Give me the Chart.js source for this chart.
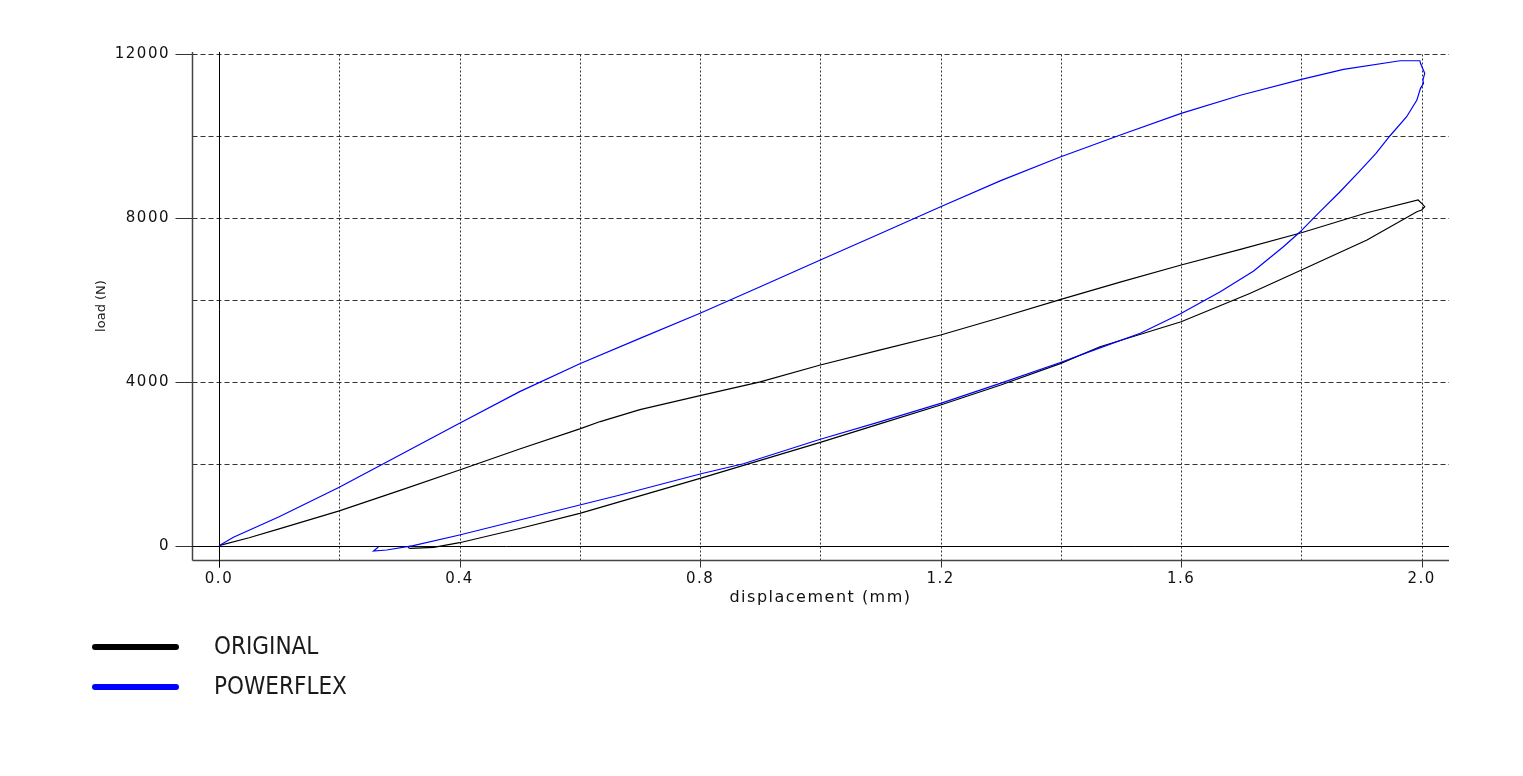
<!DOCTYPE html>
<html>
<head>
<meta charset="utf-8">
<script src="https://cdn.jsdelivr.net/npm/chart.js@4.4.0/dist/chart.umd.min.js"></script>
<style>
  html, body { margin: 0; padding: 0; background: #fff; }
  canvas { display: block; }
</style>
</head>
<body>
<canvas id="hysteresis" width="1523" height="776"></canvas>
<script>
const seriesNames = ["ORIGINAL", "POWERFLEX"];
const seriesColors = ["#000000", "#0000ff"];

const originalDisp = [0, 0.05, 0.1, 0.2, 0.3, 0.4, 0.5, 0.6, 0.634, 0.7, 0.8, 0.9, 1.0, 1.1, 1.2, 1.3, 1.4, 1.5, 1.6, 1.7, 1.8, 1.909, 1.994, 2.0, 2.005, 2.0,
  1.992, 1.909, 1.8, 1.715, 1.6, 1.465, 1.4, 1.3, 1.2, 1.1, 1.0, 0.9, 0.8, 0.7, 0.6, 0.5, 0.4, 0.357, 0.318, 0.314];
const originalLoad = [0, 195, 410, 850, 1345, 1847, 2360, 2850, 3030, 3320, 3661, 4000, 4410, 4780, 5142, 5570, 6013, 6440, 6851, 7240, 7639, 8127, 8437, 8356, 8274, 8193,
  8152, 7461, 6729, 6160, 5467, 4857, 4451, 3922, 3434, 2978, 2523, 2084, 1645, 1215, 790, 420, 73, -39, -63, -45];

const powerflexDisp = [0, 0.024, 0.1, 0.2, 0.3, 0.4, 0.5, 0.6, 0.7, 0.8, 0.9, 1.0, 1.1, 1.2, 1.3, 1.4, 1.5, 1.6, 1.7, 1.8, 1.87, 1.964, 1.997,
  1.998, 2.005, 2.002, 2.003, 1.998, 1.992, 1.975, 1.947, 1.924, 1.896, 1.863, 1.83, 1.797, 1.77, 1.72, 1.665, 1.598, 1.532, 1.465, 1.398, 1.299,
  1.2, 1.1, 1.0, 0.872, 0.8, 0.667, 0.6, 0.5, 0.4, 0.323, 0.279, 0.257, 0.265];
const powerflexLoad = [0, 205, 708, 1425, 2206, 2990, 3760, 4440, 5060, 5672, 6320, 6972, 7620, 8274, 8910, 9494, 10030, 10553, 11000, 11382, 11626, 11837, 11837,
  11773, 11529, 11366, 11285, 11163, 10877, 10470, 10000, 9577, 9130, 8620, 8140, 7649, 7297, 6700, 6200, 5655, 5184, 4830, 4466, 3963,
  3475, 3030, 2597, 2000, 1750, 1237, 993, 627, 261, 0, -105, -129, -30];

const dispTicks = [0, 0.2, 0.4, 0.6, 0.8, 1.0, 1.2, 1.4, 1.6, 1.8, 2.0];
const dispLabels = ["0.0", "0.4", "0.8", "1.2", "1.6", "2.0"];
const loadTicks = [0, 2000, 4000, 6000, 8000, 10000, 12000];
const loadLabels = ["0", "4000", "8000", "12000"];

const xTitle = "displacement (mm)";
const yTitle = "load (N)";

const toPoints = (xs, ys) => xs.map((v, i) => ({ x: v, y: ys[i] }));

function seg(ctx, x1, y1, x2, y2) {
  ctx.beginPath();
  ctx.moveTo(x1, y1);
  ctx.lineTo(x2, y2);
  ctx.stroke();
}

/* grid, zero lines, axes and tick marks */
const gridPlugin = {
  id: "plotFrame",
  beforeDraw(chart) {
    chart.ctx.letterSpacing = "1.5px";
  },
  beforeDatasetsDraw(chart) {
    const { ctx, chartArea: a, scales: { x, y } } = chart;
    const px = v => Math.round(x.getPixelForValue(v)) + 0.5;
    const py = v => Math.round(y.getPixelForValue(v)) + 0.5;
    const left = Math.round(a.left) + 0.5;
    const bottom = Math.round(a.bottom) + 0.5;

    ctx.save();
    ctx.lineWidth = 1;
    ctx.strokeStyle = "#333";

    ctx.setLineDash([5, 3]);
    loadTicks.forEach(v => { if (v !== 0) seg(ctx, left, py(v), a.right, py(v)); });

    ctx.setLineDash([2, 2]);
    dispTicks.forEach(v => { if (v !== 0) seg(ctx, px(v), py(12000), px(v), bottom); });

    ctx.setLineDash([]);
    // tick marks on labelled values
    dispTicks.forEach(v => {
      if (dispLabels.includes(v.toFixed(1))) seg(ctx, px(v), bottom, px(v), bottom + 7);
    });
    loadTicks.forEach(v => {
      if (loadLabels.includes(String(v))) seg(ctx, left - 17, py(v), left, py(v));
    });

    // axes
    ctx.strokeStyle = "#444";
    ctx.lineWidth = 1.5;
    seg(ctx, left, a.top, left, bottom);
    seg(ctx, left, bottom, a.right, bottom);

    // zero lines
    ctx.strokeStyle = "#000";
    ctx.lineWidth = 1;
    seg(ctx, px(0), a.top, px(0), bottom + 7);
    seg(ctx, left, py(0), a.right, py(0));
    ctx.restore();
  },
  afterDraw(chart) {
    const { ctx } = chart;
    ctx.save();
    ctx.letterSpacing = "0px";

    // legend
    chart.data.datasets.forEach((ds, i) => {
      const ly = 647 + i * 40;
      ctx.strokeStyle = ds.borderColor;
      ctx.lineWidth = 6;
      ctx.lineCap = "round";
      seg(ctx, 95, ly, 176, ly);
      ctx.fillStyle = "#1a1a1a";
      ctx.font = "24px 'Liberation Sans Narrow', 'DejaVu Sans Condensed', sans-serif";
      ctx.textAlign = "left";
      ctx.textBaseline = "middle";
      ctx.fillText(ds.label, 214, ly + 1);
    });

    // y axis title
    const { chartArea: a } = chart;
    ctx.translate(102, (a.top + a.bottom) / 2);
    ctx.rotate(-Math.PI / 2);
    ctx.fillStyle = "#1a1a1a";
    ctx.font = "13px 'DejaVu Sans', sans-serif";
    ctx.textAlign = "center";
    ctx.textBaseline = "middle";
    ctx.fillText(yTitle, 0, 0);
    ctx.restore();
  }
};

const tickFont = { family: "'DejaVu Sans', sans-serif", size: 15 };

new Chart(document.getElementById("hysteresis").getContext("2d"), {
  type: "scatter",
  data: {
    datasets: [
      {
        label: seriesNames[0],
        data: toPoints(originalDisp, originalLoad),
        borderColor: seriesColors[0],
        backgroundColor: seriesColors[0],
        order: 2
      },
      {
        label: seriesNames[1],
        data: toPoints(powerflexDisp, powerflexLoad),
        borderColor: seriesColors[1],
        backgroundColor: seriesColors[1],
        order: 1
      }
    ]
  },
  options: {
    responsive: false,
    animation: false,
    showLine: true,
    layout: { padding: { left: 0, top: 52, right: 74, bottom: 166 } },
    elements: {
      point: { radius: 0, hoverRadius: 0 },
      line: { borderWidth: 1.2, tension: 0 }
    },
    plugins: {
      legend: { display: false },
      tooltip: { enabled: false }
    },
    scales: {
      x: {
        type: "linear",
        min: -0.0449,
        max: 2.0454,
        afterBuildTicks: s => { s.ticks = dispTicks.map(v => ({ value: v })); },
        afterFit: s => { s.height = 50; },
        grid: { display: false, drawTicks: false },
        border: { display: false },
        ticks: {
          autoSkip: false,
          maxRotation: 0,
          padding: 10,
          color: "#111",
          font: tickFont,
          callback: v => (dispLabels.includes(v.toFixed(1)) ? v.toFixed(1) : "")
        },
        title: {
          display: true,
          text: xTitle,
          color: "#111",
          font: { family: "'DejaVu Sans', sans-serif", size: 16 },
          padding: { top: 0, bottom: 3 }
        }
      },
      y: {
        type: "linear",
        min: -349,
        max: 12050,
        afterBuildTicks: s => { s.ticks = loadTicks.map(v => ({ value: v })); },
        afterFit: s => { s.width = 192; },
        grid: { display: false, drawTicks: false },
        border: { display: false },
        ticks: {
          autoSkip: false,
          padding: 22,
          color: "#111",
          font: tickFont,
          callback: v => (loadLabels.includes(String(v)) ? String(v) : "")
        }
      }
    }
  },
  plugins: [gridPlugin]
});
</script>
</body>
</html>
